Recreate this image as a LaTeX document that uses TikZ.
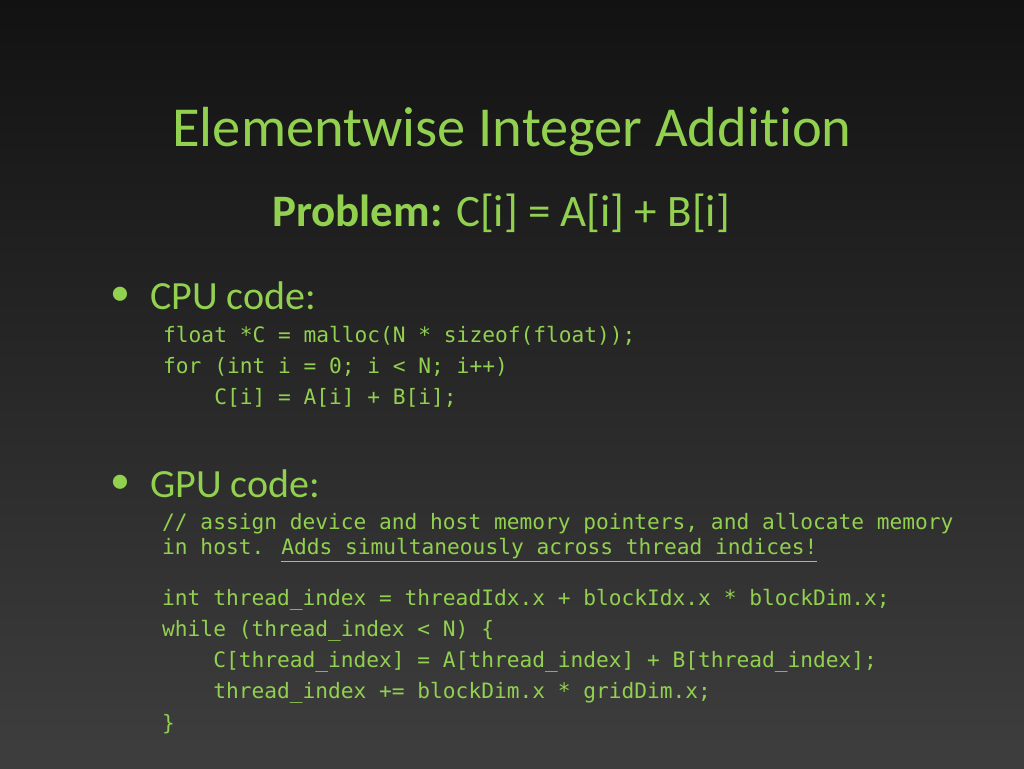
\documentclass[tikz,border=0pt]{standalone}
\usepackage{fontspec}
\setmainfont{Carlito}[Ligatures={NoCommon}]
\newfontfamily\codefont{DejaVu Sans Mono}
\definecolor{grn}{HTML}{92D050}
\definecolor{bgtop}{HTML}{121212}
\definecolor{bgbot}{HTML}{3E3E3E}
\begin{document}
\begin{tikzpicture}[x=1pt,y=-1pt,
  txt/.style={text=grn,inner sep=0pt,anchor=west},
  code/.style={txt,font=\codefont\fontsize{21.2}{24}\selectfont}]
\shade[top color=bgtop,bottom color=bgbot] (0,0) rectangle (1024,768);
\useasboundingbox (0,0) rectangle (1024,768);
\node[txt,anchor=center,font=\fontsize{56.5}{64}\selectfont] (title) at (512,132) {Elementwise Integer Addition};
\node[txt,anchor=center,font=\fontsize{45}{50}\selectfont] (prob) at (501,213) {\textbf{Problem:} C[i] = A[i] + B[i]};
\node[txt,anchor=west,font=\fontsize{40}{46}\selectfont] (d1) at (110,296) {•};
\node[txt,font=\fontsize{40}{46}\selectfont] (b1) at (150,296) {CPU code:};
\node[code] (c1) at (163,336) {float *C = malloc(N * sizeof(float));};
\node[code] (c2) at (163,367) {for (int i = 0; i < N; i++)};
\node[code] (c3) at (163,398) {\phantom{xxxx}C[i] = A[i] + B[i];};
\node[txt,anchor=west,font=\fontsize{40}{46}\selectfont] (d2) at (110,484) {•};
\node[txt,font=\fontsize{40}{46}\selectfont] (b2) at (150,484) {GPU code:};
\node[code] (g1) at (162,524) {// assign device and host memory pointers, and allocate memory};
\node[code] (g2) at (162,550) {in host. \underline{Adds simultaneously across thread indices!}};
\node[code] (g3) at (162,600) {int thread\_index = threadIdx.x + blockIdx.x * blockDim.x;};
\node[code] (g4) at (162,631) {while (thread\_index < N) \{};
\node[code] (g5) at (162,662) {\phantom{xxxx}C[thread\_index] = A[thread\_index] + B[thread\_index];};
\node[code] (g6) at (162,693) {\phantom{xxxx}thread\_index += blockDim.x * gridDim.x;};
\node[code] (g7) at (162,724) {\}};
\end{tikzpicture}
\end{document}
